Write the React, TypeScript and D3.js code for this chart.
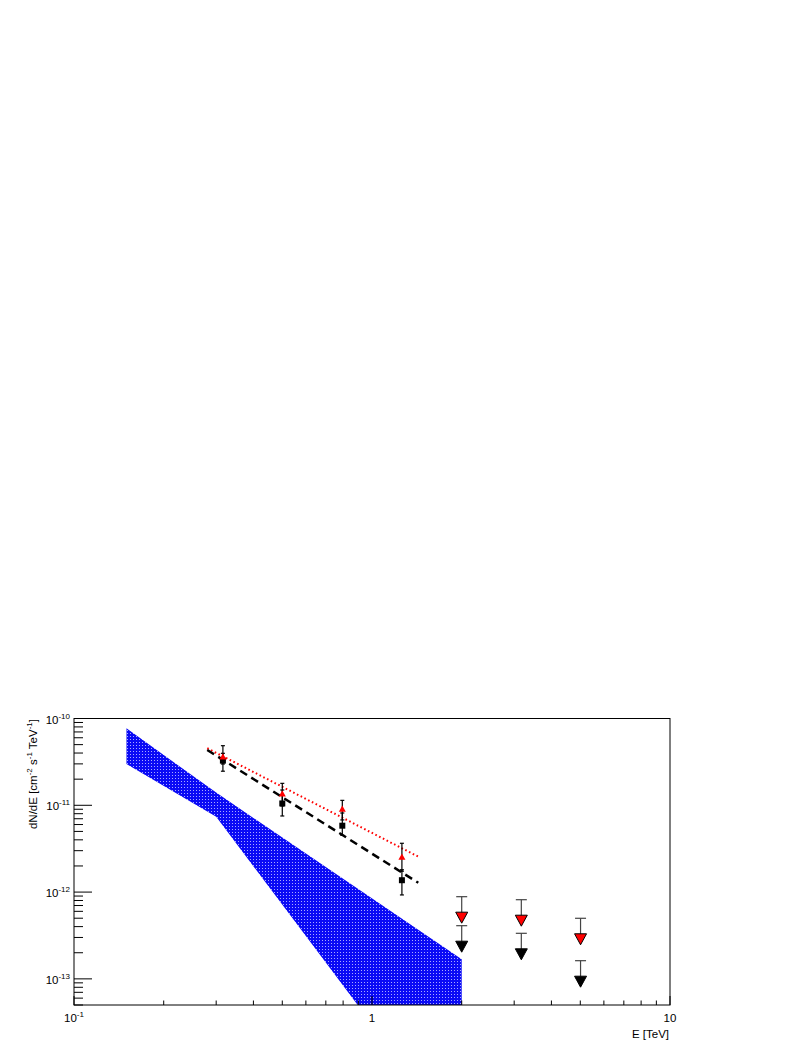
import React from "react";
import * as d3 from "d3";

// ---- data ----
const pointE = [0.316, 0.5, 0.795, 1.26];
const redFlux = [3.63e-11, 1.36e-11, 9.06e-12, 2.54e-12];
const redLo = [2.99e-11, 9.82e-12, 6.78e-12, 1.74e-12];
const redHi = [4.86e-11, 1.79e-11, 1.14e-11, 3.65e-12];
const blackFlux = [3.27e-11, 1.05e-11, 5.82e-12, 1.37e-12];
const blackLo = [2.47e-11, 7.53e-12, 4.5e-12, 9.27e-13];
const blackHi = [3.97e-11, 1.5e-11, 8.15e-12, 1.81e-12];

const ulE = [2.0, 3.17, 5.01];
const redUL = [8.85e-13, 8.17e-13, 4.99e-13];
const blackUL = [4.1e-13, 3.35e-13, 1.62e-13];

const fitE = [0.28, 1.43];
const redFit = [4.54e-11, 2.56e-12];
const blackFit = [4.34e-11, 1.28e-12];

const bandE = [0.15, 0.3, 2.0];
const bandUpper = [7.7e-11, 1.4e-11, 1.68e-13];
const bandLower = [3.0e-11, 7.4e-12, 1.27e-15];

const xTicks = [0.1, 1, 10];
const xTickExp = ["-1", "", ""];
const xTickBase = ["10", "1", "10"];
const yTicks = [1e-10, 1e-11, 1e-12, 1e-13];
const yTickExp = ["-10", "-11", "-12", "-13"];

const W = 804;
const H = 1041;
const L = 74, R = 670, T = 718.5, B = 1005;
const FONT = "'Liberation Sans', Arial, Helvetica, sans-serif";

export default function App() {
  const x = d3.scaleLog().domain([0.1, 10]).range([L, R]);
  const y = d3.scaleLog().domain([5e-14, 1e-10]).range([B, T]);

  const xMinor: number[] = [];
  for (let d = 0.1; d < 10; d *= 10) for (let k = 2; k <= 9; k++) xMinor.push(d * k);
  const yMinor: number[] = [];
  for (let d = 1e-14; d < 1e-10; d *= 10)
    for (let k = 2; k <= 9; k++) {
      const v = d * k;
      if (v >= 5e-14 && v <= 1e-10) yMinor.push(v);
    }

  const bandPts: [number, number][] = [
    ...bandE.map((e, i) => [x(e), y(bandUpper[i])] as [number, number]),
    ...bandE.map((e, i) => [x(e), y(bandLower[i])] as [number, number]).reverse(),
  ];
  const bandPath = d3.line()(bandPts) + "Z";
  const lineGen = d3.line<number>().x((_, i) => x(fitE[i])).y((v) => v);

  const tri = (cx: number, top: number, w: number, h: number) =>
    `M${cx - w / 2},${top}L${cx + w / 2},${top}L${cx},${top + h}Z`;
  const triUp = (cx: number, cy: number, s: number) =>
    `M${cx - s / 2},${cy + s * 0.4}L${cx + s / 2},${cy + s * 0.4}L${cx},${cy - s * 0.5}Z`;

  const errBar = (e: number, lo: number, hi: number, key: string) => {
    const cx = x(e);
    return (
      <g key={key} stroke="#000" strokeWidth={1.2}>
        <line x1={cx} x2={cx} y1={y(hi)} y2={y(lo)} />
        <line x1={cx - 2} x2={cx + 2} y1={y(hi)} y2={y(hi)} />
        <line x1={cx - 2} x2={cx + 2} y1={y(lo)} y2={y(lo)} />
      </g>
    );
  };

  const ulArrow = (e: number, v: number, color: string, key: string) => {
    const cx = x(e);
    const y0 = y(v);
    return (
      <g key={key}>
        <line x1={cx - 5.5} x2={cx + 5.5} y1={y0} y2={y0} stroke="#444" strokeWidth={1.2} />
        <line x1={cx} x2={cx} y1={y0} y2={y0 + 16} stroke="#444" strokeWidth={1.2} />
        <path d={tri(cx, y0 + 15.5, 12, 11)} fill={color} stroke="#000" strokeWidth={1} />
      </g>
    );
  };

  return (
    <svg
      width={W}
      height={H}
      style={{ position: "absolute", left: 0, top: 0, background: "#fff" }}
      fontFamily={FONT}
    >
      <defs>
        <clipPath id="plotClip">
          <rect x={L} y={T} width={R - L} height={B - T} />
        </clipPath>
        <pattern id="dots" width={3} height={3} patternUnits="userSpaceOnUse">
          <rect width={3} height={3} fill="#0a0af5" />
          <rect x={1} y={1} width={1} height={1} fill="#a8a8ff" />
        </pattern>
      </defs>
      <rect width={W} height={H} fill="#fff" />

      {/* band */}
      <path d={bandPath} fill="url(#dots)" clipPath="url(#plotClip)" />

      {/* fit lines */}
      <path
        d={lineGen(redFit.map((v) => y(v))) || ""}
        stroke="#ff0000"
        strokeWidth={2}
        strokeDasharray="1.6,2.6"
        fill="none"
      />
      <path
        d={lineGen(blackFit.map((v) => y(v))) || ""}
        stroke="#000"
        strokeWidth={2.5}
        strokeDasharray="8,5"
        fill="none"
      />

      {/* error bars */}
      {pointE.map((e, i) => errBar(e, redLo[i], redHi[i], "re" + i))}
      {pointE.map((e, i) => errBar(e, blackLo[i], blackHi[i], "be" + i))}

      {/* markers */}
      {pointE.map((e, i) => (
        <rect
          key={"bs" + i}
          x={x(e) - 3}
          y={y(blackFlux[i]) - 3}
          width={6}
          height={6}
          fill="#000"
        />
      ))}
      {pointE.map((e, i) => (
        <path key={"rt" + i} d={triUp(x(e), y(redFlux[i]), 7)} fill="#ff0000" />
      ))}

      {/* upper limits */}
      {ulE.map((e, i) => ulArrow(e, redUL[i], "#ff0000", "ru" + i))}
      {ulE.map((e, i) => ulArrow(e, blackUL[i], "#000", "bu" + i))}

      {/* frame */}
      <rect x={L} y={T} width={R - L} height={B - T} fill="none" stroke="#000" strokeWidth={1} />

      {/* x ticks */}
      {xMinor.map((v, i) => (
        <line key={"xm" + i} x1={x(v)} x2={x(v)} y1={B} y2={B - 4.5} stroke="#000" />
      ))}
      {xTicks.map((v, i) => (
        <line key={"xM" + i} x1={x(v)} x2={x(v)} y1={B} y2={B - 9} stroke="#000" />
      ))}
      {xTicks.map((v, i) => (
        <text key={"xl" + i} x={x(v)} y={1022} fontSize={11.5} textAnchor="middle" fill="#000">
          {xTickBase[i]}
          {xTickExp[i] && (
            <tspan fontSize={8} dy={-5}>
              {xTickExp[i]}
            </tspan>
          )}
        </text>
      ))}

      {/* y ticks */}
      {yMinor.map((v, i) => (
        <line key={"ym" + i} x1={L} x2={L + 9} y1={y(v)} y2={y(v)} stroke="#000" />
      ))}
      {yTicks.map((v, i) => (
        <line key={"yM" + i} x1={L} x2={L + 18} y1={y(v)} y2={y(v)} stroke="#000" />
      ))}
      {yTicks.map((v, i) => (
        <text key={"yl" + i} x={70} y={y(v) + 5} fontSize={11.5} textAnchor="end" fill="#000">
          10
          <tspan fontSize={8} dy={-5}>
            {yTickExp[i]}
          </tspan>
        </text>
      ))}

      {/* axis titles */}
      <text x={669} y={1038} fontSize={11.5} textAnchor="end" fill="#000">
        E [TeV]
      </text>
      <text
        transform="translate(37,719) rotate(-90)"
        fontSize={11.5}
        textAnchor="end"
        fill="#000"
      >
        dN/dE [cm
        <tspan fontSize={8} dy={-5}>-2</tspan>
        <tspan dy={5}> s</tspan>
        <tspan fontSize={8} dy={-5}>-1</tspan>
        <tspan dy={5}> TeV</tspan>
        <tspan fontSize={8} dy={-5}>-1</tspan>
        <tspan dy={5}>]</tspan>
      </text>
    </svg>
  );
}
